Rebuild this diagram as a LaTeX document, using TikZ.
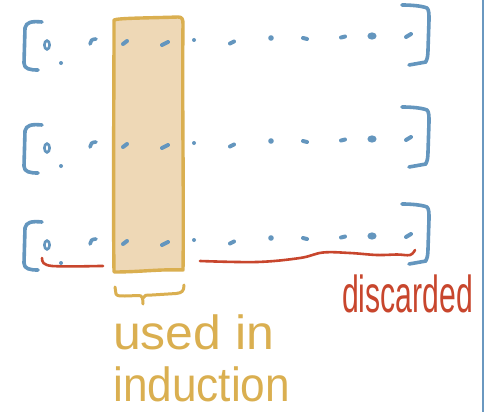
\documentclass[tikz,border=0pt]{standalone}
\usepackage{fontspec}
\usepackage{graphicx}
\setmainfont{Liberation Sans}
\definecolor{bblue}{HTML}{6496BE}
\definecolor{edgeblue}{HTML}{6A98C0}
\definecolor{rred}{HTML}{C8462D}
\definecolor{ggold}{HTML}{DAAF50}
\definecolor{tanfill}{HTML}{EED8B6}
\tikzset{
  bracketline/.style={draw=bblue, line width=3.6pt, line cap=round, line join=round},
  dotstroke/.style={draw=bblue, line width=4pt, line cap=round},
  redline/.style={draw=rred, line width=2.6pt, line cap=round, line join=round},
  goldline/.style={draw=ggold, line width=3pt, line cap=round, line join=round},
  labeltext/.style={inner sep=0pt, anchor=base west},
}
\begin{document}
\begin{tikzpicture}[x=1pt,y=-1pt]
\useasboundingbox (0,0) rectangle (484,412);
\fill[white] (0,0) rectangle (484,412);
% right edge line
\draw[edgeblue, line width=2.2pt] (482.9,0) -- (482.9,412);
% tan column (drawn first so the dots lie on top)
\draw[ggold, fill=tanfill, line width=3.4pt, line join=round]
  (114,20) .. controls (118,18) and (150,18) .. (178,17)
  .. controls (182,17) and (183,19) .. (183,24)
  .. controls (182,100) and (184,200) .. (183,270)
  .. controls (160,269) and (140,272) .. (114,272)
  .. controls (113,200) and (114,100) .. (114,20) -- cycle;
% rows
\foreach \dy in {0,103,200}{
  \begin{scope}[shift={(0,\dy)}]
    % left bracket
    \draw[bracketline] (42,22) .. controls (32,21) and (26,22) .. (25,28) -- (24,63) .. controls (24,69) and (30,70) .. (38,70);
    % zero
    \draw[bblue, line width=2.6pt] (47,45) ellipse [x radius=2.6, y radius=4.4];
    \fill[bblue] (61,63) circle (2);
    % hook
    \draw[dotstroke, line width=3.6pt] (90,44) .. controls (90,41) and (92,39) .. (96,39);
    % dots and dashes
    \draw[dotstroke] (123,44) -- (127,41);
    \draw[dotstroke] (162,45) -- (168,42);
    \fill[bblue] (194,40) circle (2);
    \draw[dotstroke] (230,43.5) -- (234,41.5);
    \fill[bblue] (271,38) circle (2.8);
    \draw[dotstroke] (303,38) -- (307,39);
    \draw[dotstroke] (341,37.5) -- (345,36.5);
    \fill[bblue] (372,36) ellipse [x radius=4.6, y radius=3.6];
    \draw[dotstroke] (406,37) -- (411,34);
  \end{scope}
}
% right brackets
\foreach \dy in {0,102,199}{
  \begin{scope}[shift={(0,\dy)}]
    \draw[bracketline] (402,5) .. controls (412,5) and (422,6) .. (427,8) .. controls (429,10) and (429,14) .. (429,20) -- (428,50) .. controls (428,56) and (427,60) .. (426,61) -- (426,62) -- (409,65);
  \end{scope}
}
% red underlines
\draw[redline] (42,258) .. controls (42,262) and (43,265) .. (52,266) .. controls (70,267) and (90,266) .. (103,266);
\draw[redline] plot[smooth, tension=0.6] coordinates {(200,261) (257,262) (300,258) (323,252.5) (350,253) (377,255) (397,254.5) (410,255) (415,250)};
% brace
\draw[goldline] (115,287) -- (116,294) .. controls (117,296) and (120,296) .. (125,296) -- (139,295.5) .. controls (142,295.5) and (143,298) .. (143,304);
\draw[goldline] (143,298) .. controls (144,295) and (146,295) .. (152,295) -- (176,293.5) .. controls (182,293) and (184,291) .. (184,285);
% texts
\node[labeltext, text=ggold] (used) at (113,349) {\fontsize{48}{48}\selectfont\scalebox{1.04}[1]{used in}};
\node[labeltext, text=ggold] (induction) at (113,401) {\fontsize{48}{48}\selectfont\scalebox{0.92}[1]{induction}};
\node[labeltext, text=rred] (discarded) at (342,312) {\fontsize{52}{52}\selectfont\scalebox{0.58}[1]{discarded}};
\end{tikzpicture}
\end{document}
